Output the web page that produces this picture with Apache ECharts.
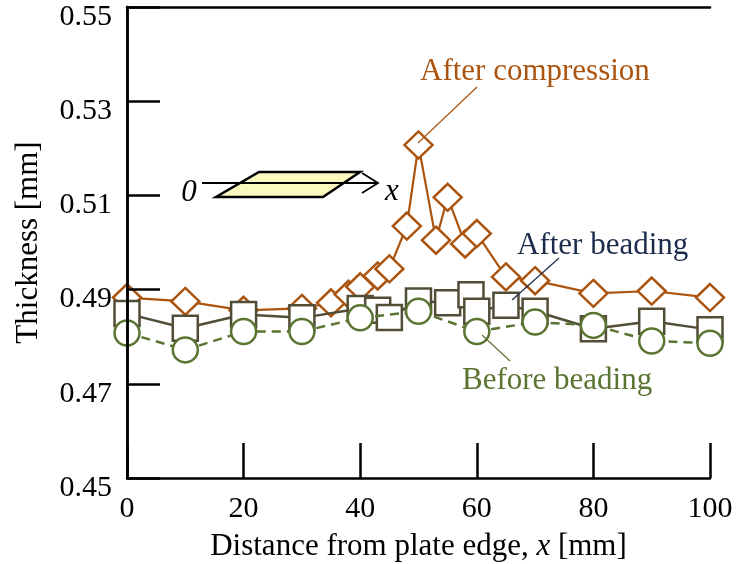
<!DOCTYPE html>
<html>
<head>
<meta charset="utf-8">
<script src="https://cdn.jsdelivr.net/npm/echarts@6/dist/echarts.min.js"></script>
<style>
html,body{margin:0;padding:0;background:#fff;}
#chart{width:738px;height:564px;}
</style>
</head>
<body>
<div id="chart"></div>
<script>
// ---- data ----
const xCompression   = [0, 10, 20, 30, 35, 38, 40, 43, 45, 48, 50, 53, 55, 58, 60, 65, 70, 80, 90, 100];
const thkCompression = [0.4883, 0.4875, 0.4856, 0.4860, 0.4872, 0.4890, 0.4906, 0.4929, 0.4944, 0.5035, 0.5207, 0.5005, 0.5096, 0.4997, 0.5019, 0.4927, 0.4919, 0.4892, 0.4897, 0.4883];

const xAfterBeading   = [0, 10, 20, 30, 40, 43, 45, 50, 55, 59, 60, 65, 70, 80, 90, 100];
const thkAfterBeading = [0.4849, 0.4818, 0.4847, 0.4840, 0.4860, 0.4856, 0.4841, 0.4876, 0.4872, 0.4889, 0.4854, 0.4867, 0.4854, 0.4817, 0.4833, 0.4815];

const xBeforeBeading   = [0, 10, 20, 30, 40, 50, 60, 70, 80, 90, 100];
const thkBeforeBeading = [0.4808, 0.4772, 0.4811, 0.4811, 0.4840, 0.4854, 0.4811, 0.4831, 0.4824, 0.4791, 0.4786];

const yTickValues = [0.45, 0.47, 0.49, 0.51, 0.53, 0.55];
const xTickValues = [0, 20, 40, 60, 80, 100];

const seriesNames = ['After compression', 'After beading', 'Before beading'];

// ---- styles ----
const FONT = 'Liberation Serif';
const cComp = '#ab540f';
const cAfter = '#514d36';
const cBefore = '#5a7431';
const cAfterText = '#1b2b4b';

const zip = (xs, ys) => xs.map((x, i) => [x, ys[i]]);

const chart = echarts.init(document.getElementById('chart'), null, {renderer: 'canvas'});

const axisBase = {
  axisLine: {show: true, lineStyle: {color: '#000', width: 2.5}},
  splitLine: {show: false}
};

chart.setOption({
  animation: false,
  backgroundColor: '#fff',
  grid: {left: 127, right: 28, top: 7, bottom: 86, containLabel: false, outerBoundsMode: 'none'},
  xAxis: [{
    type: 'value', min: 0, max: 100, interval: 20, z: 5,
    position: 'bottom',
    ...axisBase,
    axisTick: {show: true, inside: true, length: 35, lineStyle: {color: '#000', width: 2.5}, customValues: xTickValues},
    axisLabel: {show: true, fontFamily: FONT, fontSize: 30, color: '#000', margin: 16, customValues: xTickValues},
    name: 'Distance from plate edge, {i|x} [mm]',
    nameLocation: 'middle', nameGap: 53,
    nameTextStyle: {fontFamily: FONT, fontSize: 31, color: '#000',
      rich: {i: {fontFamily: FONT, fontSize: 31, fontStyle: 'italic', color: '#000'}}}
  }, {
    type: 'value', min: 0, max: 100, position: 'top', z: 5,
    ...axisBase, axisTick: {show: false}, axisLabel: {show: false}
  }],
  yAxis: [{
    type: 'value', min: 0.45, max: 0.55, z: 5,
    position: 'left',
    ...axisBase,
    axisTick: {show: true, inside: true, length: 33, lineStyle: {color: '#000', width: 2.5}, customValues: yTickValues},
    axisLabel: {show: true, fontFamily: FONT, fontSize: 30, color: '#000', margin: 15,
      verticalAlign: 'top', lineHeight: 20, customValues: yTickValues,
      formatter: v => Number(v).toFixed(2)},
    name: 'Thickness [mm]',
    nameLocation: 'middle', nameGap: 83,
    nameTextStyle: {fontFamily: FONT, fontSize: 31, color: '#000'}
  }, {
    type: 'value', min: 0.45, max: 0.55, position: 'right', z: 5,
    ...axisBase, axisTick: {show: false}, axisLabel: {show: false}
  }],
  series: [{
    name: seriesNames[0], type: 'line', xAxisIndex: 0, yAxisIndex: 0,
    data: zip(xCompression, thkCompression),
    clip: false,
    symbol: 'diamond', symbolSize: [28, 27],
    lineStyle: {color: cComp, width: 2.2},
    itemStyle: {color: '#fff', borderColor: cComp, borderWidth: 2.5},
    z: 2
  }, {
    name: seriesNames[1], type: 'line', xAxisIndex: 0, yAxisIndex: 0,
    data: zip(xAfterBeading, thkAfterBeading),
    clip: false,
    symbol: 'rect', symbolSize: 25,
    lineStyle: {color: cAfter, width: 2.5},
    itemStyle: {color: '#fff', borderColor: cAfter, borderWidth: 2.5},
    z: 3
  }, {
    name: seriesNames[2], type: 'line', xAxisIndex: 0, yAxisIndex: 0,
    data: zip(xBeforeBeading, thkBeforeBeading),
    clip: false,
    symbol: 'circle', symbolSize: 25,
    lineStyle: {color: cBefore, width: 2.5, type: [9, 6]},
    itemStyle: {color: '#fff', borderColor: cBefore, borderWidth: 2.5},
    z: 4
  }],
  graphic: [
    // inset sketch of the plate
    {type: 'polygon', z: 10, shape: {points: [[259, 172], [360, 172], [323, 197], [216, 197]]},
     style: {fill: '#fbf8c0', stroke: '#000', lineWidth: 2.5}},
    {type: 'line', z: 11, shape: {x1: 202, y1: 183, x2: 378, y2: 183}, style: {stroke: '#000', lineWidth: 1.8}},
    {type: 'polyline', z: 11, shape: {points: [[362, 173], [378, 183], [362, 193]]}, style: {stroke: '#000', lineWidth: 1.8, fill: null}},
    {type: 'text', z: 11, style: {text: '0', x: 189, y: 193, textAlign: 'center', textVerticalAlign: 'middle',
      font: 'italic 31px "Liberation Serif"', fill: '#000'}},
    {type: 'text', z: 11, style: {text: 'x', x: 392, y: 192, textAlign: 'center', textVerticalAlign: 'middle',
      font: 'italic 31px "Liberation Serif"', fill: '#000'}},
    // annotations
    {type: 'text', z: 11, style: {text: seriesNames[0], x: 420, y: 72, textAlign: 'left', textVerticalAlign: 'middle',
      font: '31px "Liberation Serif"', fill: cComp}},
    {type: 'line', z: 11, shape: {x1: 477, y1: 87, x2: 418, y2: 143}, style: {stroke: cComp, lineWidth: 1.2}},
    {type: 'text', z: 11, style: {text: seriesNames[1], x: 517, y: 246, textAlign: 'left', textVerticalAlign: 'middle',
      font: '31px "Liberation Serif"', fill: cAfterText}},
    {type: 'line', z: 11, shape: {x1: 559, y1: 258, x2: 512, y2: 300}, style: {stroke: cAfterText, lineWidth: 1.2}},
    {type: 'text', z: 11, style: {text: seriesNames[2], x: 462, y: 381, textAlign: 'left', textVerticalAlign: 'middle',
      font: '31px "Liberation Serif"', fill: cBefore}},
    {type: 'line', z: 11, shape: {x1: 482, y1: 335, x2: 510, y2: 361}, style: {stroke: cBefore, lineWidth: 1.2}}
  ]
});
</script>
</body>
</html>
